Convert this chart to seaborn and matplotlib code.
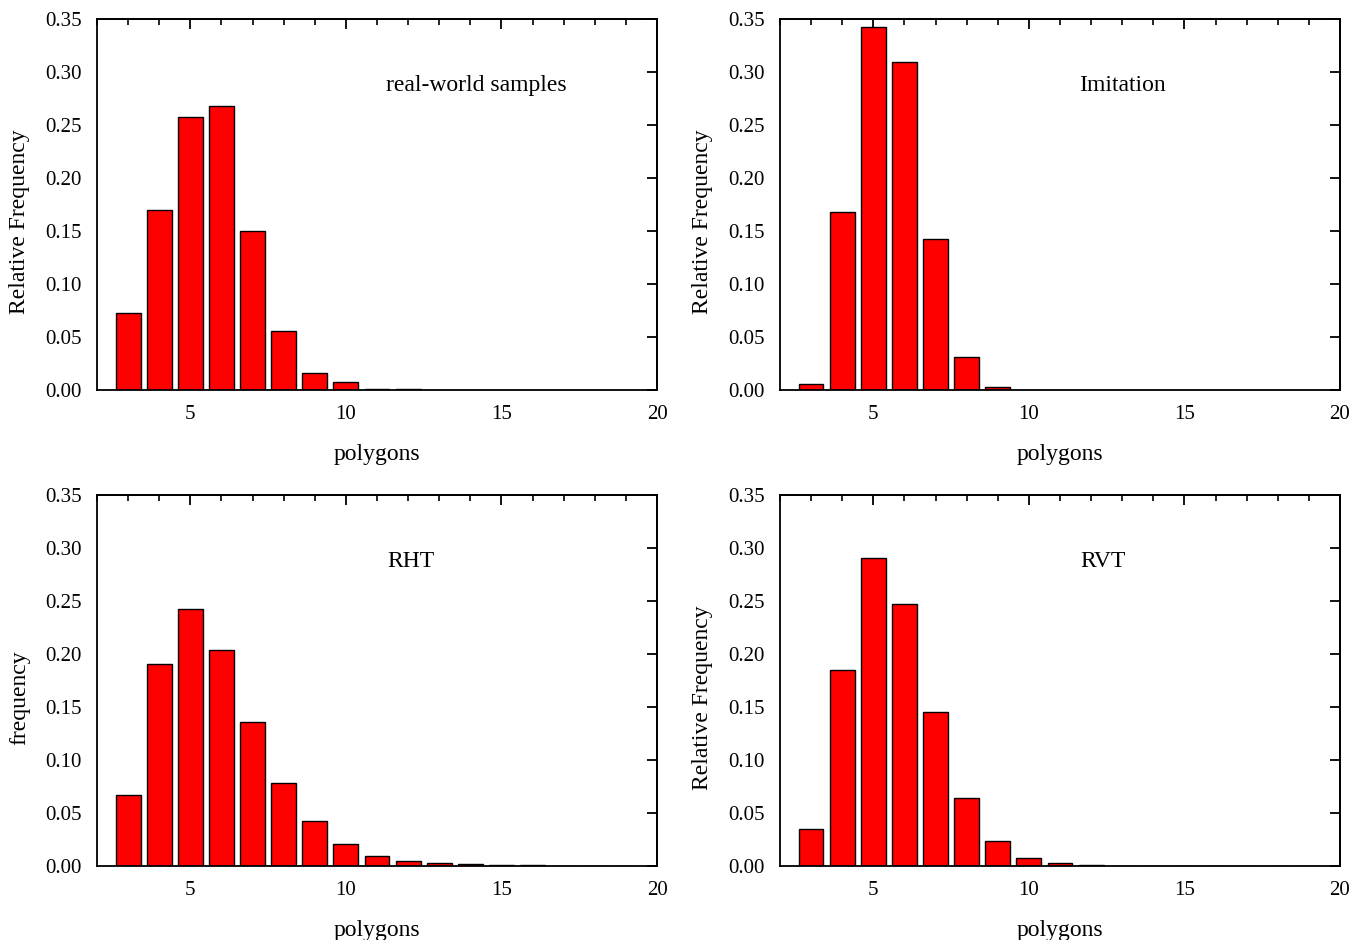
import matplotlib
matplotlib.use("Agg")
import matplotlib.pyplot as plt
import seaborn as sns
import pandas as pd
from matplotlib.ticker import MultipleLocator, FormatStrFormatter

polygons = list(range(3, 21))

real_world = [0.073, 0.170, 0.258, 0.268, 0.150, 0.056, 0.016, 0.0075, 0.0005, 0.0012,
              0, 0, 0, 0, 0, 0, 0, 0]
imitation = [0.006, 0.168, 0.342, 0.309, 0.142, 0.031, 0.003, 0, 0, 0,
             0, 0, 0, 0, 0, 0, 0, 0]
rht = [0.067, 0.191, 0.242, 0.204, 0.136, 0.078, 0.042, 0.021, 0.0095, 0.0047,
       0.0028, 0.0015, 0.0009, 0.0005, 0.0003, 0.0002, 0.0001, 0.00005]
rvt = [0.035, 0.185, 0.291, 0.247, 0.145, 0.064, 0.0235, 0.008, 0.003, 0.001,
       0.0003, 0, 0, 0, 0, 0, 0, 0]

panels = [
    ("real-world samples", real_world, "Relative Frequency", 14.2),
    ("Imitation", imitation, "Relative Frequency", 13.0),
    ("RHT", rht, "frequency", 12.1),
    ("RVT", rvt, "Relative Frequency", 12.4),
]

sns.set_style("white")
plt.rcParams["font.family"] = ["Liberation Serif", "DejaVu Serif"]
plt.rcParams["axes.linewidth"] = 1.3
for key in ["text.color", "axes.labelcolor", "axes.edgecolor", "xtick.color", "ytick.color"]:
    plt.rcParams[key] = "black"

fig = plt.figure(figsize=(13.64, 9.40), dpi=100)
positions = [
    [0.0711, 0.5851, 0.4106, 0.3947],
    [0.5718, 0.5851, 0.4106, 0.3947],
    [0.0711, 0.0787, 0.4106, 0.3947],
    [0.5718, 0.0787, 0.4106, 0.3947],
]

for (name, values, ylab, tx), pos in zip(panels, positions):
    ax = fig.add_axes(pos)
    df = pd.DataFrame({"polygons": polygons, "freq": values})
    sns.barplot(data=df, x="polygons", y="freq", native_scale=True, width=0.8,
                color="red", saturation=1, edgecolor="black", linewidth=1.0, ax=ax)
    ax.set_xlim(2, 20)
    ax.set_ylim(0, 0.35)
    ax.xaxis.set_major_locator(MultipleLocator(5))
    ax.xaxis.set_minor_locator(MultipleLocator(1))
    ax.yaxis.set_major_locator(MultipleLocator(0.05))
    ax.yaxis.set_major_formatter(FormatStrFormatter("%.2f"))
    ax.tick_params(axis="both", which="major", direction="out", length=7, width=1.3,
                   labelsize=15, pad=4)
    ax.tick_params(axis="x", which="minor", direction="out", length=4, width=1.2)
    ax.set_xlabel("polygons", fontsize=17, labelpad=14)
    ax.set_ylabel(ylab, fontsize=17)
    ax.yaxis.set_label_coords(-0.119, 0.455)

    top = ax.secondary_xaxis("top")
    top.xaxis.set_major_locator(MultipleLocator(5))
    top.xaxis.set_minor_locator(MultipleLocator(1))
    top.tick_params(which="major", direction="in", length=7, width=1.3, labeltop=False)
    top.tick_params(which="minor", direction="in", length=4, width=1.2)
    right = ax.secondary_yaxis("right")
    right.yaxis.set_major_locator(MultipleLocator(0.05))
    right.tick_params(which="major", direction="in", length=7, width=1.3, labelright=False)

    ax.text(tx, 0.287, name, ha="center", va="center", fontsize=17)

plt.savefig("out.png", dpi=100)
